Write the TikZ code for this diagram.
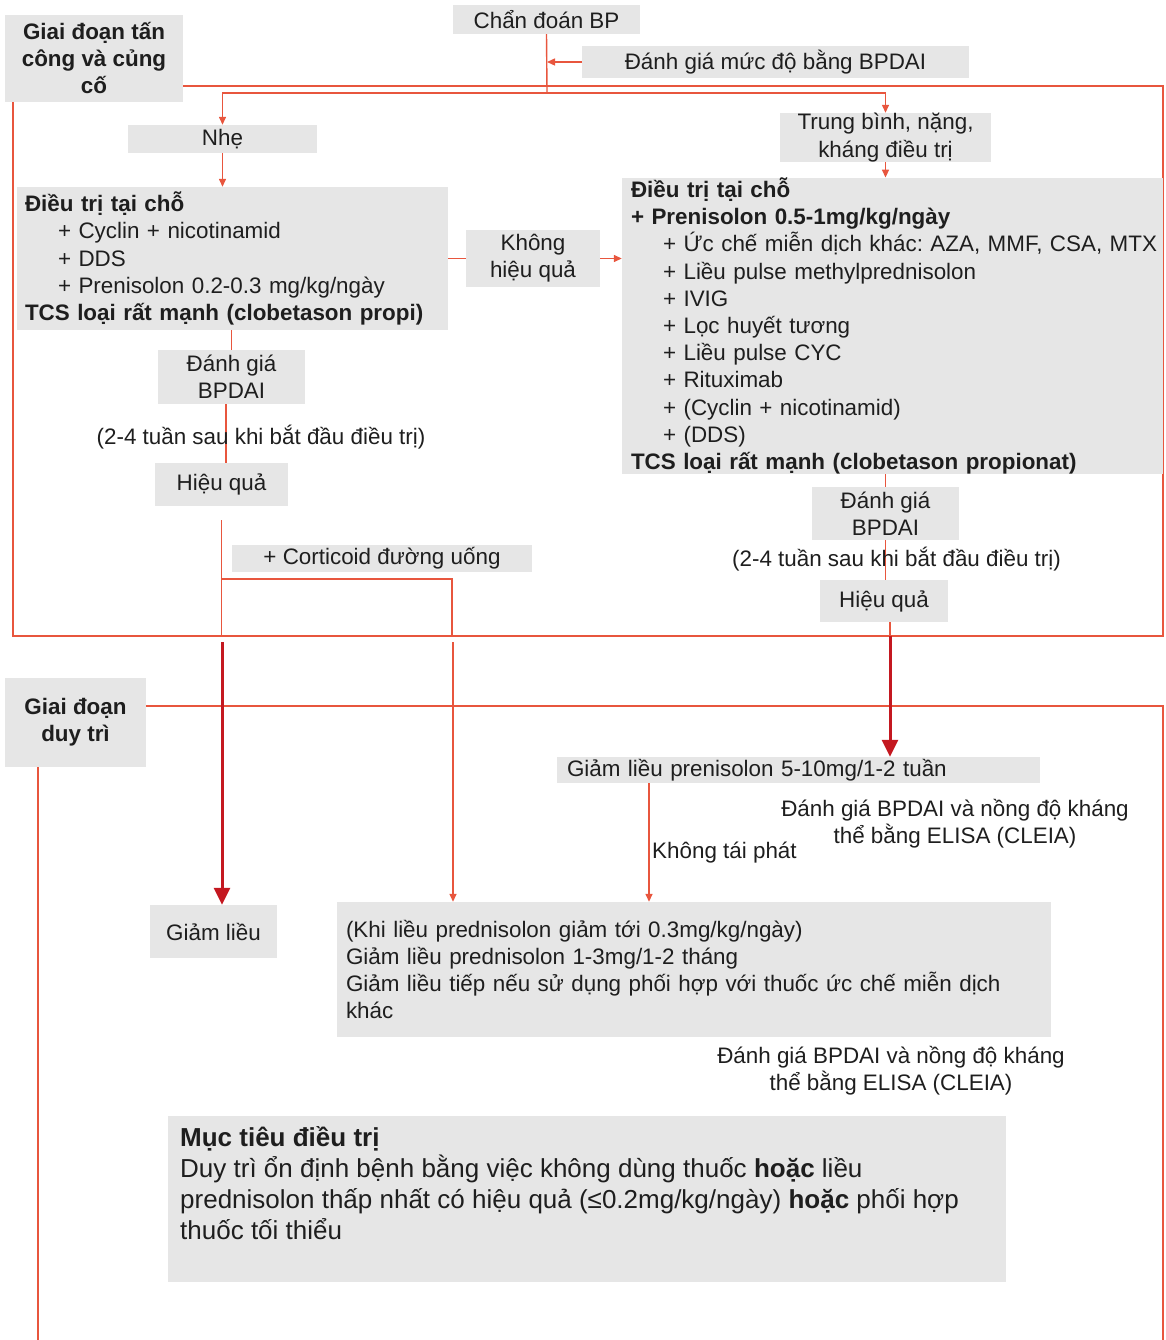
\documentclass[tikz,border=0pt]{standalone}
\usepackage{fontspec}
\setmainfont{Liberation Sans}
\usetikzlibrary{arrows.meta,backgrounds}
\definecolor{boxgray}{RGB}{230,230,230}
\definecolor{lred}{RGB}{232,86,62}
\definecolor{dred}{RGB}{196,24,32}
\definecolor{txt}{RGB}{30,30,30}
\frenchspacing
\begin{document}
\begin{tikzpicture}[x=1pt,y=-1pt,
  box/.style={fill=boxgray, inner sep=0pt, text=txt, align=center},
  fn/.style={font=\fontsize{22.4}{27.2}\selectfont},
  fb/.style={font=\bfseries\fontsize{22.4}{27}\selectfont},
  rl/.style={draw=lred, line width=1.4pt},
  arr/.style={rl, -{Triangle[length=8pt,width=7pt]}},
  bigarr/.style={draw=dred, line width=3pt, -{Triangle[length=17pt,width=16pt]}},
  plain/.style={text=txt, inner sep=0pt, align=center}]
\useasboundingbox (0,0) rectangle (1166,1340);

\node[box,fb,minimum width=178pt,minimum height=87pt] (giai1) at (94,58.5) {Giai đoạn tấn\\công và củng\\cố};
\node[box,fn,minimum width=187pt,minimum height=29pt] (chan) at (546.5,19.5) {Chẩn đoán BP};
\node[box,fn,minimum width=387pt,minimum height=32pt] (dgm) at (775.5,62) {Đánh giá mức độ bằng BPDAI};
\node[box,fn,minimum width=189pt,minimum height=28pt] (nhe) at (222.5,139) {Nhẹ};
\node[box,fn,minimum width=211pt,minimum height=49pt] (tb) at (885.5,137.5) {Trung bình, nặng,\\kháng điều trị};

\node[box,fn,align=left,text width=415pt,minimum height=143pt,inner xsep=8pt] (L) at (232.5,258.5)
 {\mbox{\bfseries Điều trị tại chỗ}\\
  \mbox{\hspace*{33pt}+ Cyclin + nicotinamid}\\
  \mbox{\hspace*{33pt}+ DDS}\\
  \mbox{\hspace*{33pt}+ Prenisolon 0.2-0.3 mg/kg/ngày}\\
  \mbox{\bfseries TCS loại rất mạnh (clobetason propi)}};

\node[box,fn,minimum width=134pt,minimum height=57pt] (khq) at (533,258.5) {Không\\hiệu quả};

\node[box,fn,align=left,text width=523pt,minimum height=288pt,inner xsep=9pt] (R) at (892.5,326)
 {\mbox{\bfseries Điều trị tại chỗ}\\
  \mbox{\bfseries + Prenisolon 0.5-1mg/kg/ngày}\\
  \mbox{\hspace*{32pt}+ Ức chế miễn dịch khác: AZA, MMF, CSA, MTX}\\
  \mbox{\hspace*{32pt}+ Liều pulse methylprednisolon}\\
  \mbox{\hspace*{32pt}+ IVIG}\\
  \mbox{\hspace*{32pt}+ Lọc huyết tương}\\
  \mbox{\hspace*{32pt}+ Liều pulse CYC}\\
  \mbox{\hspace*{32pt}+ Rituximab}\\
  \mbox{\hspace*{32pt}+ (Cyclin + nicotinamid)}\\
  \mbox{\hspace*{32pt}+ (DDS)}\\
  \mbox{\bfseries TCS loại rất mạnh (clobetason propionat)}};

\node[box,fn,minimum width=147pt,minimum height=54pt] (dg1) at (231.5,377) {Đánh giá\\BPDAI};
\node[plain,fn] (t1) at (261,437) {(2-4 tuần sau khi bắt đầu điều trị)};
\node[box,fn,minimum width=133pt,minimum height=43pt] (hq1) at (221.5,484.5) {Hiệu quả};
\node[box,fn,minimum width=300pt,minimum height=27pt] (cort) at (382,558.5) {+ Corticoid đường uống};

\node[box,fn,minimum width=147pt,minimum height=53pt] (dg2) at (885.5,513.5) {Đánh giá\\BPDAI};
\node[plain,fn] (t2) at (896.5,559) {(2-4 tuần sau khi bắt đầu điều trị)};
\node[box,fn,minimum width=128pt,minimum height=42pt] (hq2) at (884,601) {Hiệu quả};

\node[box,fb,minimum width=141pt,minimum height=89pt] (giai2) at (75.5,722.5) {Giai đoạn\\duy trì};
\node[box,fn,align=left,text width=463pt,minimum height=26pt,inner xsep=10pt] (gl1) at (798.5,770) {Giảm liều prenisolon 5-10mg/1-2 tuần};
\node[plain,fn] (e1) at (955,824) {Đánh giá BPDAI và nồng độ kháng\\thể bằng ELISA (CLEIA)};
\node[plain,fn,anchor=west] (ktp) at (652,853) {Không tái phát};
\node[box,fn,minimum width=127pt,minimum height=53pt] (gl2) at (213.5,931.5) {Giảm liều};
\node[box,fn,align=left,text width=696pt,minimum height=135pt,inner xsep=9pt] (big) at (694,969.5)
 {\mbox{(Khi liều prednisolon giảm tới 0.3mg/kg/ngày)}\\
  \mbox{Giảm liều prednisolon 1-3mg/1-2 tháng}\\
  \mbox{Giảm liều tiếp nếu sử dụng phối hợp với thuốc ức chế miễn dịch}\\
  \mbox{khác}};
\node[plain,fn] (e2) at (891,1071) {Đánh giá BPDAI và nồng độ kháng\\thể bằng ELISA (CLEIA)};

\node[box,inner xsep=12pt,inner ysep=0pt,anchor=north west] (muc) at (168,1116)
 {\parbox[c][166pt][t]{814pt}{\fontsize{26}{31}\selectfont\raggedright\vspace*{10pt}%
  \mbox{\bfseries Mục tiêu điều trị}\\
  \mbox{Duy trì ổn định bệnh bằng việc không dùng thuốc \textbf{hoặc} liều}\\
  \mbox{prednisolon thấp nhất có hiệu quả (≤0.2mg/kg/ngày) \textbf{hoặc} phối hợp}\\
  \mbox{thuốc tối thiểu}}};

\begin{scope}[on background layer]
  \draw[rl] (13,86) rectangle (1163,636);
  \draw[rl] (38,1345) -- (38,706) -- (1163,706) -- (1163,1345);
  \coordinate (sp) at (547,93);
  \draw[rl] (chan.south) -- (sp);
  \draw[arr] (sp) -| (nhe.north);
  \draw[arr] (sp) -| (tb.north);
  \draw[arr] (dgm.west) -- (dgm.west -| sp);
  \draw[arr] (nhe.south) -- (nhe.south |- L.north);
  \draw[arr] (tb.south) -- (tb.south |- R.north);
  \draw[rl] (L.east) -- (khq.west);
  \draw[arr] (khq.east) -- (khq.east -| R.west);
  \draw[rl] (dg1.north |- L.south) -- (dg1.north);
  \coordinate (v1) at (226,0);
  \draw[rl] (v1 |- dg1.south) -- (v1 |- hq1.north);
  \coordinate (fb1) at (222,636);
  \coordinate (fb2) at (452,636);
  \coordinate (fb3) at (890,636);
  \coordinate (k2) at (452,579);
  \draw[rl] ([yshift=-14pt]hq1.south) -- (hq1.south |- fb1);
  \draw[rl] (hq1.south |- k2) -- (k2) -- (fb2);
  \coordinate (d1) at (222,642);
  \coordinate (d2) at (453,642);
  \draw[bigarr] (d1) -- (d1 |- gl2.north);
  \draw[arr] (d2) -- (d2 |- big.north);
  \draw[rl] (dg2.north |- R.south) -- (dg2.north);
  \draw[rl] (dg2.south) -- (dg2.south |- hq2.north);
  \draw[rl] (fb3 |- hq2.south) -- (fb3);
  \draw[bigarr] (fb3) -- (fb3 |- gl1.north);
  \coordinate (d3) at (649,0);
  \draw[arr] (d3 |- gl1.south) -- (d3 |- big.north);
\end{scope}
\end{tikzpicture}
\end{document}
